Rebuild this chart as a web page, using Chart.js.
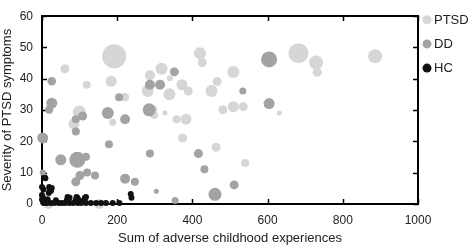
<!DOCTYPE html>
<html>
<head>
<meta charset="utf-8">
<script src="https://cdn.jsdelivr.net/npm/chart.js@4/dist/chart.umd.min.js"></script>
<style>
  html, body { margin: 0; padding: 0; background: #fff; }
  #wrap { width: 470px; height: 246px; }
</style>
</head>
<body>
<div id="wrap"><canvas id="scatterChart" width="470" height="246"></canvas></div>
<script>
// groups
const groupNames = ["PTSD", "DD", "HC"];
const groupColors = ["#d6d6d6", "#a3a3a3", "#111111"];

// axis ticks
const xTicks = [0, 200, 400, 600, 800, 1000];
const yTicks = [0, 10, 20, 30, 40, 50, 60];

// PTSD: sum of adverse experiences, severity, bubble size
const ptsdX = [192, 61, 119, 184, 219, 287, 318, 281, 99, 188, 298, 327, 358, 383, 340, 372, 389, 339, 420, 426, 451, 466, 509, 481, 509, 682, 729, 732, 886, 535, 631, 374, 463, 540, 85, 221, 152, 17, 73, 296];
const ptsdY = [47.2, 43.2, 38.1, 39.2, 34.1, 41.1, 43.2, 36.1, 29.4, 26.1, 28.4, 29.1, 27.1, 27.1, 40.2, 38.1, 36.1, 35.1, 48.2, 45.2, 36.1, 39.1, 42.2, 30.1, 31.1, 48.2, 45.2, 42.1, 47.2, 31.1, 29.1, 21.1, 18.1, 13.1, 25.6, 34.1, 0, 0, 1.6, 30.2];
const ptsdSize = [12, 4.5, 4, 5.5, 4, 5, 6, 6, 6.5, 3.5, 4, 2.5, 4, 5.5, 3, 5.5, 4.5, 6, 6, 4.5, 6, 4.5, 6, 4.5, 5.5, 10, 7, 4.5, 7, 4.5, 2.5, 4.5, 4.5, 4, 5.5, 4, 5, 5, 5, 4];

// DD
const ddX = [26, 205, 287, 314, 352, 26, 19, 108, 90, 175, 221, 285, 604, 534, 604, 416, 432, 511, 460, 354, 2, 50, 94, 117, 90, 2, 90, 101, 120, 141, 178, 221, 247, 287, 304];
const ddY = [39.2, 34.1, 38.1, 38.1, 42.2, 32.2, 30.1, 28.1, 27.1, 29.1, 27.1, 30.1, 46.2, 36.1, 32.1, 16.1, 11.1, 6.1, 3.1, 1.1, 21.1, 14.1, 14.1, 15.1, 23.2, 10.1, 7.1, 9.1, 10.1, 9.1, 19.1, 8.1, 7.1, 16.1, 4.1];
const ddSize = [4.3, 4, 5, 5, 4.5, 5.5, 4, 4.5, 4, 6, 5, 6.5, 8, 3.5, 5.5, 4.5, 4, 4.5, 6.5, 3.5, 5.5, 5.5, 8, 4, 4, 3, 4.5, 4.5, 4, 4, 4, 5, 4, 4, 2.5];

// HC
const hcX = [9, 0, 19, 18, 24, 0, 0, 3, 11, 4, 8, 21, 26, 2, 73, 94, 114, 68, 92, 117, 37, 66, 90, 99, 113, 5, 14, 24, 33, 45, 53, 62, 73, 83, 95, 104, 117, 130, 144, 157, 170, 188, 206, 236, 238, 6, 15];
const hcY = [8.2, 5.4, 5.4, 3.5, 4.2, 2.9, 1.4, 0.5, 0.4, 4.6, 8.4, 4.6, 5.1, 2.2, 2, 2, 2, 2.2, 2.2, 2.2, 1.2, 1.2, 1.2, 1.2, 1.2, 0.3, 0.3, 0.3, 0.3, 0.3, 0.3, 0.3, 0.3, 0.3, 0.3, 0.3, 0.3, 0.3, 0.3, 0.3, 0.3, 0.3, 0.3, 3.2, 2.0, 1, 1.5];
const hcSize = 3;

function toPoints(xs, ys, sizes) {
  return xs.map((x, i) => ({
    x: x,
    y: ys[i],
    r: Array.isArray(sizes) ? sizes[i] : sizes
  }));
}

const FONT = "'Liberation Sans', Arial, sans-serif";
Chart.defaults.font.family = FONT;
Chart.defaults.color = "#222";

// box around the plot with inward ticks
const framePlugin = {
  id: "frame",
  beforeDatasetsDraw(chart) {
    const { ctx, chartArea: a, scales } = chart;
    const l = Math.round(a.left), r = Math.round(a.right);
    const t = Math.round(a.top), b = Math.round(a.bottom);
    ctx.save();
    ctx.strokeStyle = "#000";
    ctx.lineWidth = 2;
    ctx.strokeRect(l, t, r - l, b - t);
    ctx.lineWidth = 1.5;
    ctx.beginPath();
    xTicks.forEach(v => {
      const px = Math.round(scales.x.getPixelForValue(v)) + 0.5;
      ctx.moveTo(px, b); ctx.lineTo(px, b - 5);
      ctx.moveTo(px, t); ctx.lineTo(px, t + 5);
    });
    yTicks.forEach(v => {
      const py = Math.round(scales.y.getPixelForValue(v)) + 0.5;
      ctx.moveTo(l, py); ctx.lineTo(l + 5, py);
      ctx.moveTo(r, py); ctx.lineTo(r - 5, py);
    });
    ctx.stroke();
    ctx.restore();
  },
  afterDraw(chart) {
    // legend on the right
    const { ctx, chartArea: a } = chart;
    ctx.save();
    ctx.font = "13px " + FONT;
    ctx.textBaseline = "middle";
    groupNames.forEach((name, i) => {
      const y = a.top + 3.5 + i * 24.2;
      ctx.fillStyle = groupColors[i];
      ctx.beginPath();
      ctx.arc(a.right + 9, y, 4.5, 0, Math.PI * 2);
      ctx.fill();
      ctx.fillStyle = "#222";
      ctx.fillText(name, a.right + 16, y + 0.5);
    });
    ctx.restore();
  }
};

const ctx = document.getElementById("scatterChart").getContext("2d");

const chart = new Chart(ctx, {
  type: "bubble",
  data: {
    datasets: [
      {
        label: groupNames[2],
        data: toPoints(hcX, hcY, hcSize),
        backgroundColor: groupColors[2],
        borderWidth: 0,
        order: 1,
        clip: false
      },
      {
        label: groupNames[1],
        data: toPoints(ddX, ddY, ddSize),
        backgroundColor: groupColors[1],
        borderWidth: 0,
        order: 2,
        clip: false
      },
      {
        label: groupNames[0],
        data: toPoints(ptsdX, ptsdY, ptsdSize),
        backgroundColor: groupColors[0],
        borderWidth: 0,
        order: 3,
        clip: false
      }
    ]
  },
  options: {
    responsive: false,
    animation: false,
    devicePixelRatio: 1,
    layout: {
      padding: { top: 5, right: 52, left: 0, bottom: 0 }
    },
    plugins: {
      legend: { display: false },
      tooltip: { enabled: false }
    },
    scales: {
      x: {
        type: "linear",
        min: 0,
        max: 1000,
        afterBuildTicks(scale) {
          scale.ticks = xTicks.map(v => ({ value: v }));
        },
        afterFit(scale) {
          scale.height = 42;
        },
        grid: { display: false, drawTicks: false },
        border: { display: false },
        ticks: {
          padding: 9,
          font: { size: 12 },
          color: "#222",
          callback: v => String(v)
        },
        title: {
          display: true,
          text: "Sum of adverse childhood experiences",
          font: { size: 13 },
          color: "#222",
          padding: { top: 2, bottom: 0 }
        }
      },
      y: {
        type: "linear",
        min: 0,
        max: 60,
        afterBuildTicks(scale) {
          scale.ticks = yTicks.map(v => ({ value: v }));
        },
        afterFit(scale) {
          scale.width = 42;
        },
        grid: { display: false, drawTicks: false },
        border: { display: false },
        ticks: {
          padding: 9,
          font: { size: 12 },
          color: "#222",
          callback: v => String(v)
        },
        title: {
          display: true,
          text: "Severity of PTSD symptoms",
          font: { size: 13 },
          color: "#222",
          padding: { top: 0, bottom: 0 }
        }
      }
    }
  },
  plugins: [framePlugin]
});
</script>
</body>
</html>
